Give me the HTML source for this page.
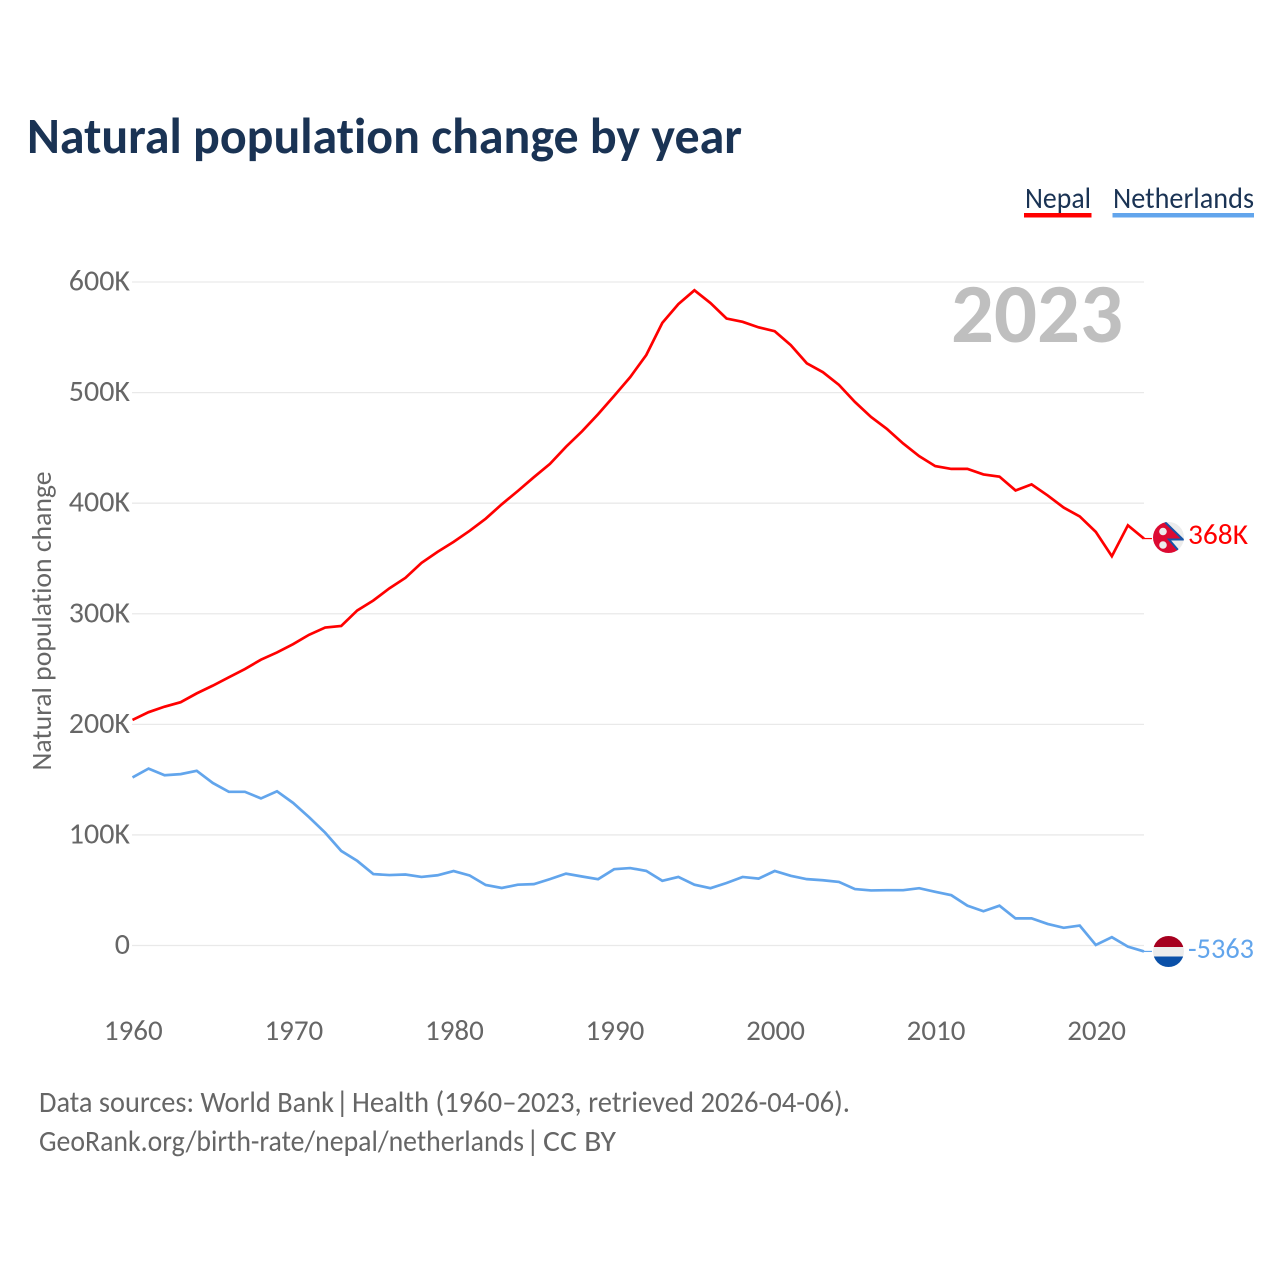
<!DOCTYPE html>
<html>
<head>
<meta charset="utf-8">
<style>
html,body{margin:0;padding:0;background:#fff;width:1280px;height:1280px;overflow:hidden}
svg{display:block}
text{font-family:"Carlito","Lato","Liberation Sans",sans-serif;font-variant-ligatures:none}
</style>
</head>
<body>
<svg id="chart" width="1280" height="1280" viewBox="0 0 1280 1280" xmlns="http://www.w3.org/2000/svg">
  <defs>
    <clipPath id="flag-clip-np"><circle cx="1168.5" cy="537.5" r="15.5"/></clipPath>
    <clipPath id="flag-clip-nl"><circle cx="1168.5" cy="951.5" r="15.5"/></clipPath>
  </defs>
  <text x="27" y="153" font-size="51" font-weight="700" fill="#1a3354" textLength="715" lengthAdjust="spacingAndGlyphs">Natural population change by year</text>
  <text x="1025" y="208" font-size="30" fill="#1a3354" textLength="66" lengthAdjust="spacingAndGlyphs">Nepal</text>
  <rect x="1024" y="213" width="67.5" height="4.5" fill="#ff0000"/>
  <text x="1113" y="208" font-size="30" fill="#1a3354" textLength="141" lengthAdjust="spacingAndGlyphs">Netherlands</text>
  <rect x="1112.5" y="213" width="141.5" height="4.5" fill="#62a5ec"/>
  <g id="grid"></g>
  <g id="y-ticks"></g>
  <g id="x-ticks"></g>
  <text transform="translate(51 621) rotate(-90)" text-anchor="middle" font-size="28" fill="#666" textLength="299" lengthAdjust="spacingAndGlyphs">Natural population change</text>
  <text x="951" y="342" font-size="84" font-weight="700" fill="#bfbfbf" textLength="172" lengthAdjust="spacingAndGlyphs">2023</text>
  <g id="series"></g>
  <g clip-path="url(#flag-clip-np)">
    <rect x="1150" y="520" width="36" height="36" fill="#ececec"/>
    <polygon points="1153,521 1165,521 1183,539.5 1169,539.5 1178,550 1178,554 1153,554" fill="#dc0a32"/>
    <polyline points="1165,522 1183,539.5 1169,539.5 1178,550" fill="none" stroke="#1554a8" stroke-width="2"/>
    <circle cx="1163" cy="531.5" r="3.8" fill="#ececec"/>
    <circle cx="1163" cy="545" r="3.8" fill="#ececec"/>
  </g>
  <g clip-path="url(#flag-clip-nl)">
    <rect x="1150" y="936" width="37" height="11" fill="#a6001f"/>
    <rect x="1150" y="947" width="37" height="9.5" fill="#ececec"/>
    <rect x="1150" y="956.5" width="37" height="11" fill="#0a50a8"/>
  </g>
  <text x="1188" y="544" font-size="29" fill="#ff0000" textLength="60" lengthAdjust="spacingAndGlyphs">368K</text>
  <text x="1188" y="958" font-size="29" fill="#62a5ec" textLength="66" lengthAdjust="spacingAndGlyphs">-5363</text>
  <text x="39" y="1112" font-size="29.5" fill="#666" textLength="295" lengthAdjust="spacingAndGlyphs">Data sources: World Bank</text>
  <text x="335.5" y="1112" font-size="29.5" fill="#666">|</text>
  <text x="352" y="1112" font-size="29.5" fill="#666" textLength="498" lengthAdjust="spacingAndGlyphs">Health (1960–2023, retrieved 2026-04-06).</text>
  <text x="39" y="1151" font-size="29.5" fill="#666" textLength="485" lengthAdjust="spacingAndGlyphs">GeoRank.org/birth-rate/nepal/netherlands</text>
  <text x="526" y="1151" font-size="29.5" fill="#666">|</text>
  <text x="543" y="1151" font-size="29.5" fill="#666" textLength="73" lengthAdjust="spacingAndGlyphs">CC BY</text>
</svg>
<script>
const firstYear = 1960;
const nepalValues = [204,211,216,220,228,235,242.5,250,258.5,265,272.5,281,287.5,289,303,312,323,332.5,346,356,365,375,386,399,411,423.5,435.5,451,465,480.5,497,514,534,563,580,592.5,581,567,564,559,555.5,543,526.5,518.5,507,491.5,478,467,454,442.5,433.5,431,431,426,424,411.5,417,407,396,388,374,352,380,368];
const netherlandsValues = [152,160,154,155,158,147,139,139,133,139.5,129,116,102,85.5,76.5,64.6,63.7,64.2,62,63.5,67.3,63.3,54.7,52,55,55.5,60,65,62.4,60,69,70,67.5,58.5,62,55,51.8,56.5,62,60.5,67.4,63,60,59,57.5,51,49.8,50,50,51.8,48.5,45.5,36,31,36,24.5,24.5,19.5,16,18,0.5,7.5,-1,-5.363];
const yTickValues = [0,100,200,300,400,500,600];
const yTickLabels = ["0","100K","200K","300K","400K","500K","600K"];
const xTickYears = [1960,1970,1980,1990,2000,2010,2020];

const NS = "http://www.w3.org/2000/svg";
function xScale(year){ return 132.5 + (year - 1960) * 16.055; }
function yScale(v){ return 945.5 - v * 1.1058; }
function make(tag, attrs, parent){
  const el = document.createElementNS(NS, tag);
  for (const k in attrs) el.setAttribute(k, attrs[k]);
  parent.appendChild(el);
  return el;
}
const grid = document.getElementById("grid");
const yT = document.getElementById("y-ticks");
const xT = document.getElementById("x-ticks");
const series = document.getElementById("series");

yTickValues.forEach(function(v, i){
  const line = make("line", {x1:132, x2:1144, y1:yScale(v), y2:yScale(v), stroke:"#e9e9e9", "stroke-width":1.3}, grid);
  
  
  const t = make("text", {x:130, y:yScale(v)+8.5, "text-anchor":"end", "font-size":30, fill:"#666"}, yT);
  
  
  t.textContent = yTickLabels[i];
});
xTickYears.forEach(function(yr){
  const t = make("text", {x:xScale(yr)+0.8, y:1040, "text-anchor":"middle", "font-size":29, fill:"#666"}, xT);
  
  
  t.textContent = yr;
});
function drawSeries(values, color, name){
  const pts = values.map(function(v, i){ return xScale(firstYear + i).toFixed(2) + "," + yScale(v).toFixed(2); });
  const path = make("polyline", {points:pts.join(" "), fill:"none", stroke:color, "stroke-width":2.7, "stroke-linejoin":"miter"}, series);
  
  
  const last = values[values.length - 1];
  const lastX = xScale(firstYear + values.length - 1);
  const conn = make("line", {x1:lastX, x2:lastX + 8, y1:yScale(last), y2:yScale(last), stroke:color, "stroke-width":1.2}, series);
  
  
}
drawSeries(nepalValues, "#ff0000", "nepal-line");
drawSeries(netherlandsValues, "#62a5ec", "netherlands-line");
</script>
</body>
</html>
